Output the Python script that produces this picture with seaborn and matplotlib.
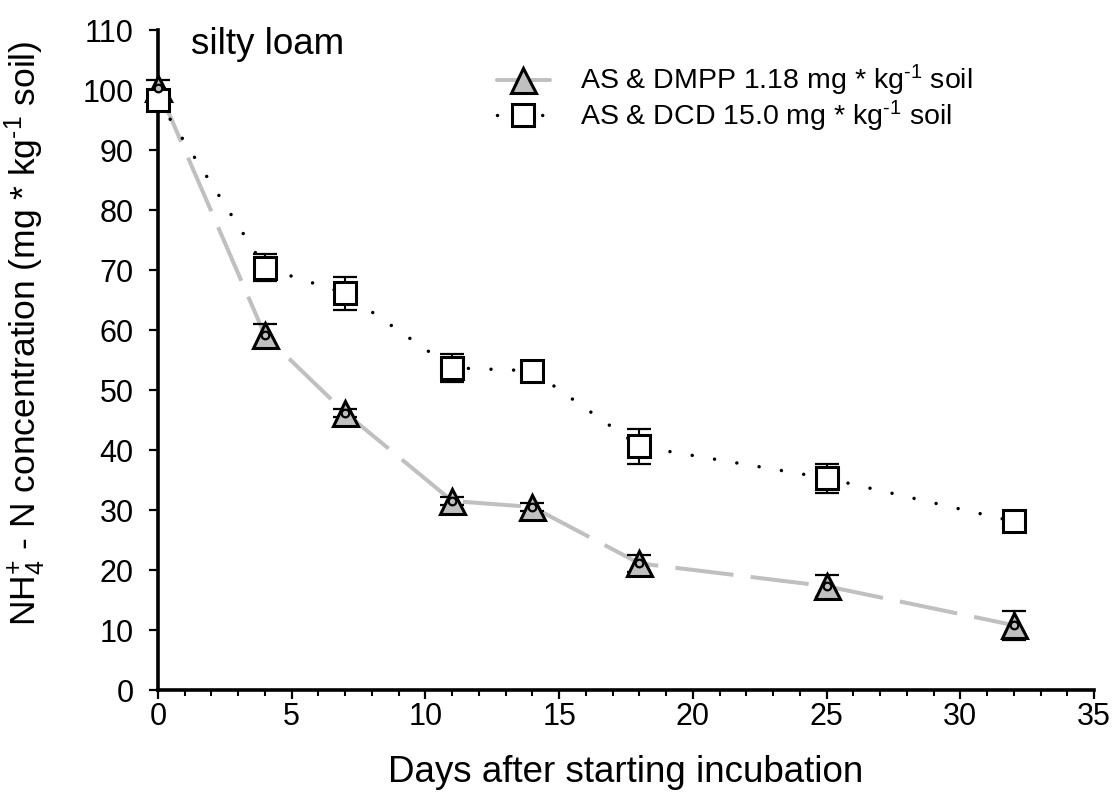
import numpy as np
import pandas as pd
import matplotlib
matplotlib.use("Agg")
import matplotlib.pyplot as plt
from matplotlib.lines import Line2D
import seaborn as sns

days = [0, 4, 7, 11, 14, 18, 25, 32]
dmpp_mean = [100.3, 59.1, 46.2, 31.5, 30.5, 21.1, 17.3, 10.8]
dmpp_err = [1.3, 1.9, 0.7, 0.7, 0.6, 1.4, 1.8, 2.4]
dcd_mean = [98.3, 70.4, 66.1, 53.7, 53.2, 40.6, 35.3, 28.1]
dcd_err = [0.8, 2.2, 2.7, 2.3, 0.8, 2.9, 2.4, 0.8]
label_dmpp = r"AS & DMPP 1.18 mg * kg$^{\text{-1}}$ soil"
label_dcd = r"AS & DCD 15.0 mg * kg$^{\text{-1}}$ soil"

sns.set_style("white")
plt.rcParams['font.family'] = ['Liberation Sans', 'DejaVu Sans']
plt.rcParams['mathtext.fontset'] = 'custom'
plt.rcParams['mathtext.rm'] = 'Liberation Sans'
plt.rcParams['mathtext.it'] = 'Liberation Sans'
plt.rcParams['mathtext.bf'] = 'Liberation Sans'
for k in ['text.color', 'axes.labelcolor', 'xtick.color', 'ytick.color']:
    plt.rcParams[k] = 'black'

df = pd.DataFrame({
    'day': days * 2,
    'value': dmpp_mean + dcd_mean,
    'series': ['DMPP'] * len(days) + ['DCD'] * len(days),
})

fig = plt.figure(figsize=(11.14, 7.92), dpi=100)
ax = fig.add_axes([158 / 1114, 1 - 690 / 792, 936 / 1114, 660 / 792])

gray = '#c0c0c0'
sns.lineplot(data=df[df.series == 'DMPP'], x='day', y='value', ax=ax,
             color=gray, linewidth=2.9, legend=False, zorder=2)
ax.lines[-1].set_dashes((14.5, 4.3))
sns.lineplot(data=df[df.series == 'DCD'], x='day', y='value', ax=ax,
             color='black', linewidth=2.5, legend=False, zorder=2)
dl = ax.lines[-1]
dl.set_linestyle((0, (0.01, 6.5)))
dl.set_dash_capstyle('round')

ax.errorbar(days, dmpp_mean, yerr=dmpp_err, fmt='none', ecolor='black',
            elinewidth=1.5, capsize=8.5, capthick=1.6, zorder=3)
ax.errorbar(days, dcd_mean, yerr=dcd_err, fmt='none', ecolor='black',
            elinewidth=1.5, capsize=8.5, capthick=1.6, zorder=3)

ax.plot(days, dmpp_mean, linestyle='none', marker='^', markersize=18,
        markerfacecolor=gray, markeredgecolor='black', markeredgewidth=2.2, zorder=4)
ax.plot(days, dmpp_mean, linestyle='none', marker='o', markersize=5.5,
        markerfacecolor=gray, markeredgecolor='black', markeredgewidth=1.6, zorder=5)
ax.plot(days, dcd_mean, linestyle='none', marker='s', markersize=16,
        markerfacecolor='white', markeredgecolor='black', markeredgewidth=2.2, zorder=4)

ax.set_xlim(0, 35)
ax.set_ylim(0, 110)
ax.set_xticks(np.arange(0, 36, 5))
ax.set_xticks(np.arange(0, 36, 1), minor=True)
ax.set_yticks(np.arange(0, 111, 10))

for s in ['top', 'right']:
    ax.spines[s].set_visible(False)
for s in ['left', 'bottom']:
    ax.spines[s].set_linewidth(2.6)
    ax.spines[s].set_color('black')
ax.tick_params(axis='both', which='major', direction='out', length=6.5, width=1.6,
               color='black', labelsize=22, left=True, bottom=True)
ax.tick_params(axis='y', which='major', pad=11)
ax.tick_params(axis='x', which='major', pad=2)
ax.tick_params(axis='x', which='minor', direction='out', length=4, width=1.5,
               color='black', bottom=True)
for ln in ax.lines:
    ln.set_clip_on(False)

ax.set_xlabel('Days after starting incubation', fontsize=26.5, labelpad=17)
ax.set_ylabel(r'NH$_{\mathregular{4}}^{\mathregular{+}}$ - N concentration (mg * kg$^{\text{-1}}$ soil)',
              fontsize=25.5)
ax.yaxis.set_label_coords(-(158 - 48) / 936, (690 - 333) / 660)

ax.text(1.25, 107.6, 'silty loam', fontsize=26.5, va='center', ha='left')

h1 = Line2D([], [], color=gray, linewidth=2.9, marker='^', markersize=18,
            markerfacecolor=gray, markeredgecolor='black', markeredgewidth=2.2)
h2 = Line2D([], [], color='black', linewidth=2.5, linestyle=(0, (0.01, 6.5)),
            dash_capstyle='round', marker='s', markersize=16,
            markerfacecolor='white', markeredgecolor='black', markeredgewidth=2.2)
leg = ax.legend([h1, h2], [label_dmpp, label_dcd], loc='upper left',
                bbox_to_anchor=(0.350, 0.967), frameon=False, fontsize=20.5,
                handlelength=1.86, handletextpad=1.05, labelspacing=0.0,
                borderaxespad=0)

fig.savefig('out.png', dpi=100)
